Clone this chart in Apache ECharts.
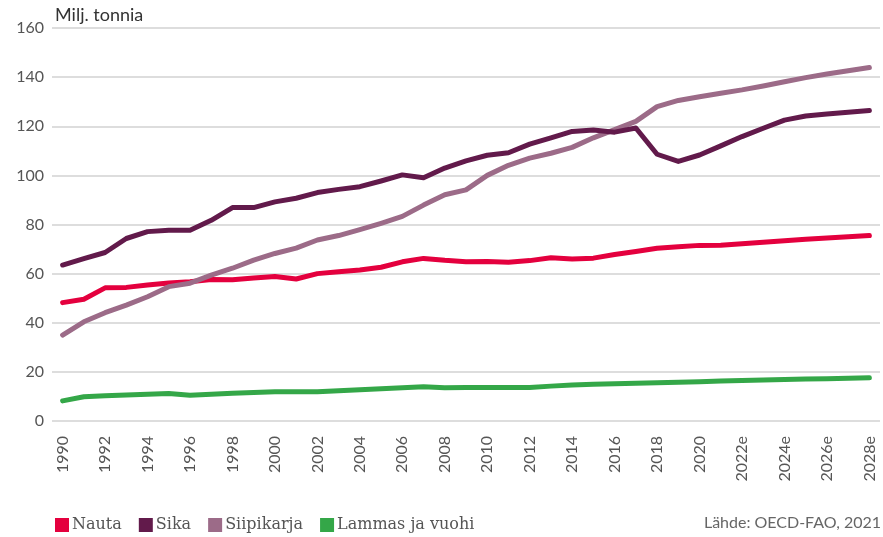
<!DOCTYPE html>
<html>
<head>
<meta charset="utf-8">
<script src="https://cdn.jsdelivr.net/npm/echarts@6/dist/echarts.min.js"></script>
<style>
  html, body { margin: 0; padding: 0; background: #fff; }
  #chart { width: 883px; height: 537px; }
</style>
</head>
<body>
<div id="chart"></div>
<script>
// vuodet, 2021e -> ennuste
var years = ['1990','1991','1992','1993','1994','1995','1996','1997','1998','1999',
  '2000','2001','2002','2003','2004','2005','2006','2007','2008','2009',
  '2010','2011','2012','2013','2014','2015','2016','2017','2018','2019','2020',
  '2021e','2022e','2023e','2024e','2025e','2026e','2027e','2028e'];

var nauta = [48.2, 49.6, 54.2, 54.4, 55.4, 56.2, 56.7, 57.6, 57.5, 58.2,
  58.8, 57.8, 60.0, 60.8, 61.5, 62.6, 64.8, 66.2, 65.4, 64.8,
  64.9, 64.6, 65.3, 66.5, 66.0, 66.3, 67.8, 69.0, 70.3, 70.9, 71.5,
  71.6, 72.2, 72.8, 73.4, 74.0, 74.5, 75.0, 75.5];

var sika = [63.5, 66.1, 68.6, 74.3, 77.1, 77.7, 77.7, 81.7, 86.9, 86.9,
  89.2, 90.7, 93.0, 94.3, 95.4, 97.7, 100.2, 99.0, 103.0, 105.9,
  108.2, 109.2, 112.7, 115.3, 117.9, 118.5, 117.6, 119.3, 108.6, 105.7, 108.3,
  112.0, 115.8, 119.2, 122.5, 124.2, 125.0, 125.7, 126.4];

var siipikarja = [35.0, 40.4, 44.1, 47.2, 50.6, 54.7, 56.1, 59.4, 62.2, 65.5,
  68.2, 70.4, 73.7, 75.5, 77.9, 80.5, 83.3, 87.9, 92.1, 94.1,
  100.0, 104.1, 107.0, 109.0, 111.4, 115.3, 118.6, 122.0, 128.0, 130.5, 132.0,
  133.4, 134.8, 136.4, 138.1, 139.8, 141.3, 142.6, 143.9];

var lammas = [8.2, 9.9, 10.3, 10.6, 10.9, 11.2, 10.5, 10.9, 11.3, 11.6,
  11.9, 11.9, 11.9, 12.3, 12.7, 13.1, 13.5, 13.9, 13.5, 13.6,
  13.6, 13.6, 13.6, 14.2, 14.7, 15.0, 15.2, 15.4, 15.6, 15.8, 16.0,
  16.3, 16.5, 16.7, 16.9, 17.1, 17.2, 17.4, 17.6];

var colors = ['#e4003e', '#621a4b', '#9c6b88', '#34a748'];

var chart = echarts.init(document.getElementById('chart'));

function line(name, data, color) {
  return {
    name: name,
    type: 'line',
    data: data,
    symbol: 'none',
    smooth: false,
    lineStyle: { color: color, width: 5, cap: 'round', join: 'round' },
    itemStyle: { color: color }
  };
}

chart.setOption({
  animation: false,
  textStyle: { fontFamily: 'Lato, sans-serif' },
  title: [{
    text: 'Milj. tonnia',
    left: 55,
    top: 6,
    padding: 0,
    textStyle: { fontSize: 18, fontWeight: 'normal', color: '#333', fontFamily: 'Lato, sans-serif' }
  }, {
    text: 'Lähde: OECD-FAO, 2021',
    right: 2,
    top: 515,
    padding: 0,
    textStyle: { fontSize: 16, fontWeight: 'normal', color: '#666', fontFamily: 'Lato, sans-serif' }
  }],
  legend: {
    left: 50,
    top: 512,
    icon: 'rect',
    itemWidth: 14,
    itemHeight: 14,
    itemGap: 17,
    textStyle: { fontSize: 16, color: '#555', fontFamily: '"DejaVu Serif", serif', padding: [0, 0, 0, -2] },
    data: ['Nauta', 'Sika', 'Siipikarja', 'Lammas ja vuohi']
  },
  grid: { left: 52, right: 3, top: 28, bottom: 116 },
  xAxis: {
    type: 'category',
    data: years,
    boundaryGap: true,
    axisLine: { show: false },
    axisTick: { show: false },
    axisLabel: {
      interval: 1,
      rotate: 90,
      margin: 15,
      fontSize: 16,
      color: '#555',
      fontFamily: 'Lato, sans-serif'
    }
  },
  yAxis: {
    type: 'value',
    min: 0,
    max: 160,
    interval: 20,
    axisLine: { show: false },
    axisTick: { show: false },
    axisLabel: { fontSize: 16, color: '#555', margin: 8, fontFamily: 'Lato, sans-serif' },
    splitLine: { lineStyle: { color: '#d2d2d2', width: 1.5 } }
  },
  series: [
    line('Lammas ja vuohi', lammas, colors[3]),
    line('Nauta', nauta, colors[0]),
    line('Siipikarja', siipikarja, colors[2]),
    line('Sika', sika, colors[1])
  ]
});
</script>
</body>
</html>
